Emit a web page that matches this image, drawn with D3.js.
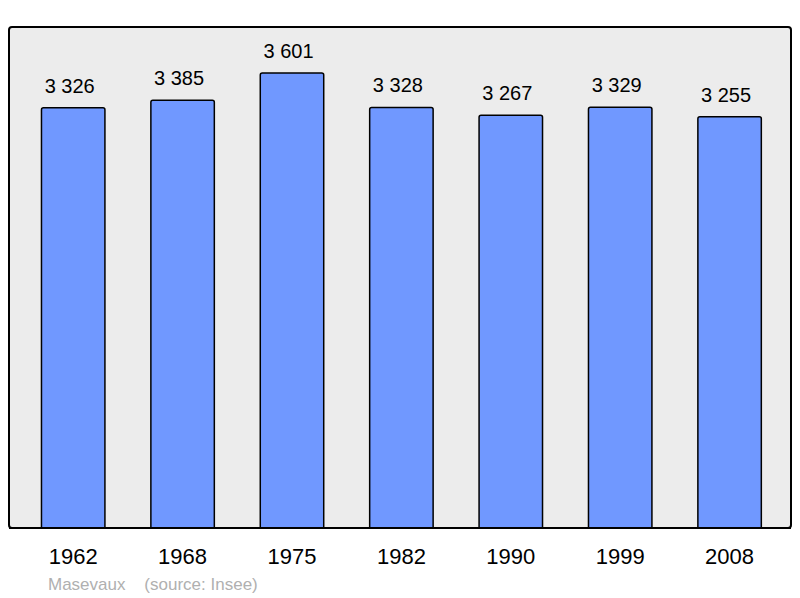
<!DOCTYPE html>
<html>
<head>
<meta charset="utf-8">
<script src="https://cdn.jsdelivr.net/npm/d3@7"></script>
<style>
  body { margin: 0; background: #fff; }
  text { font-family: "Liberation Sans", Arial, sans-serif; }
</style>
</head>
<body>
<div id="chart"></div>
<script>
// population data, Masevaux (source: Insee)
const years = ['1962', '1968', '1975', '1982', '1990', '1999', '2008'];
const population = [3326, 3385, 3601, 3328, 3267, 3329, 3255];

const W = 800, H = 598;

const svg = d3.select('#chart')
    .append('svg')
    .attr('width', W)
    .attr('height', H);

// panel
svg.append('rect')
    .attr('x', 9).attr('y', 27)
    .attr('width', 782).attr('height', 501)
    .attr('rx', 3)
    .attr('fill', '#ececec')
    .attr('stroke', '#000')
    .attr('stroke-width', 2);

const x = d3.scaleBand()
    .domain(years)
    .range([18.5, 784.3])
    .paddingInner(0.42)
    .paddingOuter(0.21);

const y = d3.scaleLinear()
    .domain([0, d3.max(population)])
    .range([528, 73]);

const data = years.map((yr, i) => ({ year: yr, value: population[i] }));
const fmt = v => d3.format(',')(v).replace(/,/g, ' ');

// bars with rounded top corners
const barPath = d => {
    const x0 = x(d.year), x1 = x0 + x.bandwidth(), y0 = y(d.value), yb = y(0), r = 2;
    return `M${x0},${yb}V${y0 + r}Q${x0},${y0} ${x0 + r},${y0}H${x1 - r}Q${x1},${y0} ${x1},${y0 + r}V${yb}`;
};

svg.selectAll('.bar')
    .data(data)
    .enter().append('path')
    .attr('class', 'bar')
    .attr('d', barPath)
    .attr('fill', '#7098ff')
    .attr('stroke', '#000')
    .attr('stroke-width', 1.5);

// value labels
svg.selectAll('.val')
    .data(data)
    .enter().append('text')
    .attr('class', 'val')
    .attr('x', d => x(d.year) + x.bandwidth() / 2 - 3.5)
    .attr('y', d => y(d.value) - 15)
    .attr('text-anchor', 'middle')
    .attr('font-size', 20)
    .attr('fill', '#000')
    .text(d => fmt(d.value));

// redraw panel bottom edge over bars
svg.append('line')
    .attr('x1', 9).attr('x2', 791)
    .attr('y1', 528).attr('y2', 528)
    .attr('stroke', '#000')
    .attr('stroke-width', 2);

// year labels
svg.selectAll('.yr')
    .data(years)
    .enter().append('text')
    .attr('class', 'yr')
    .attr('x', d => x(d) + x.bandwidth() / 2)
    .attr('y', 564)
    .attr('text-anchor', 'middle')
    .attr('font-size', 22)
    .attr('fill', '#000')
    .text(d => d);

// footer
svg.append('text')
    .attr('x', 48).attr('y', 590)
    .attr('font-size', 17)
    .attr('fill', '#b0b0b0')
    .attr('xml:space', 'preserve')
    .style('white-space', 'pre')
    .text('Masevaux    (source: Insee)');
</script>
</body>
</html>
